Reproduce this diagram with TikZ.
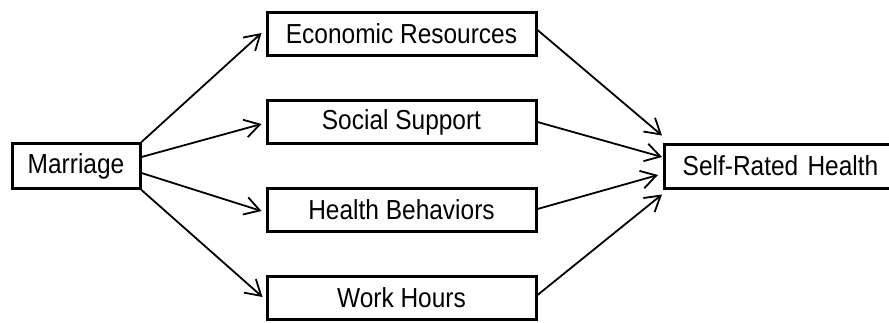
\documentclass[tikz,border=0pt]{standalone}
\usepackage{fontspec}
\setmainfont{Liberation Sans}[FakeStretch=0.89]
\usetikzlibrary{arrows.meta}
\begin{document}
\begin{tikzpicture}[x=1pt,y=-1pt,
  box/.style={draw, line width=3pt, rectangle, inner sep=0pt, align=center,
    font=\fontsize{27.5}{30}\selectfont},
  conn/.style={line width=1.8pt, -{Straight Barb[length=15pt,width=18pt,line width=1.8pt]}}]
  \useasboundingbox (0,0) rectangle (889,322);
  % source and outcome
  \node[box, minimum width=128pt, minimum height=45pt] (m) at (76,166) {Marriage};
  \node[box, minimum width=232pt, minimum height=44pt, anchor=west, text width=222pt] (s) at (663,166) {Self-Rated Health};
  % mediators
  \node[box, minimum width=269pt, minimum height=43pt] (econ) at (401.5,34) {Economic Resources};
  \node[box, minimum width=269pt, minimum height=43pt] (soc)  at (401.5,122) {Social Support};
  \node[box, minimum width=269pt, minimum height=43pt] (hb)   at (401.5,210) {Health Behaviors};
  \node[box, minimum width=269pt, minimum height=43pt] (wh)   at (401.5,298) {Work Hours};
  % marriage to mediators
  \draw[conn] (m.north east) -- ([xshift=-4pt,yshift=1pt]econ.west);
  \draw[conn] ([yshift=9pt]m.east) -- ([xshift=-4pt,yshift=-2pt]soc.west);
  \draw[conn] ([yshift=-7pt]m.east) -- ([xshift=-4pt,yshift=-1pt]hb.west);
  \draw[conn] (m.south east) -- ([xshift=-3pt,yshift=1pt]wh.west);
  % mediators to health
  \draw[conn] ([yshift=4pt]econ.east) -- ([xshift=-1pt,yshift=7pt]s.north west);
  \draw[conn] (soc.east) -- ([xshift=-1pt,yshift=9pt]s.west);
  \draw[conn] ([yshift=1pt]hb.east) -- ([xshift=-5pt,yshift=-9pt]s.west);
  \draw[conn] ([yshift=3pt]wh.east) -- ([xshift=-1pt,yshift=-5pt]s.south west);
\end{tikzpicture}
\end{document}
